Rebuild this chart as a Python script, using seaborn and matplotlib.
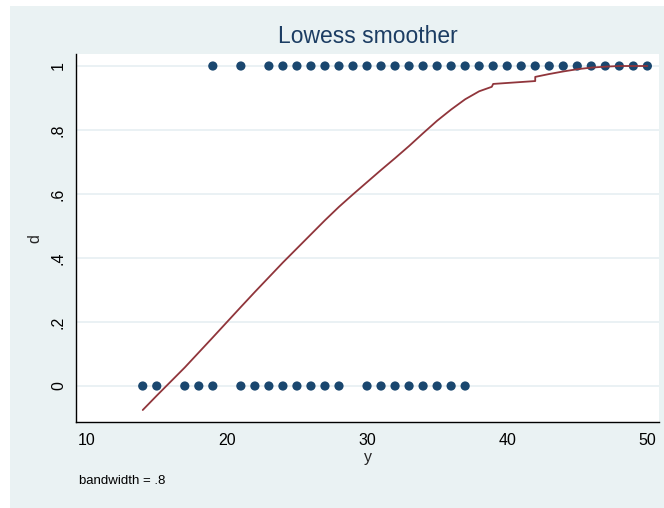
import matplotlib
matplotlib.use("Agg")
import matplotlib.pyplot as plt
from matplotlib.patches import Rectangle
import seaborn as sns
import pandas as pd

# observed outcomes: y values where d == 1 and where d == 0
y_d1 = [19, 21, 23, 24, 25, 26, 27, 28, 29, 30, 31, 32, 33, 34, 35, 36, 37,
        38, 39, 40, 41, 42, 43, 44, 45, 46, 47, 48, 49, 50]
y_d0 = [14, 15, 17, 18, 19, 21, 22, 23, 24, 25, 26, 27, 28, 30, 31, 32, 33,
        34, 35, 36, 37]

# lowess fit (bandwidth .8) evaluated at the observed y values
fit_y = [14, 15, 17, 18, 19, 21, 22, 23, 24, 25, 26, 27, 28, 29, 30, 31, 32,
         33, 34, 35, 36, 37, 38, 38.9, 39, 40, 41, 42, 42, 43, 44, 45, 46,
         47, 48, 49, 50]
fit_d = [-0.075, -0.030, 0.058, 0.105, 0.152, 0.247, 0.294, 0.340, 0.386,
         0.430, 0.474, 0.518, 0.560, 0.599, 0.637, 0.675, 0.712, 0.750,
         0.790, 0.829, 0.864, 0.896, 0.921, 0.935, 0.944, 0.947, 0.950,
         0.953, 0.966, 0.975, 0.983, 0.990, 0.995, 0.998, 1.000, 1.000, 1.000]

xticks = [10, 20, 30, 40, 50]
yticks = [0, 0.2, 0.4, 0.6, 0.8, 1.0]
ytick_labels = ["0", ".2", ".4", ".6", ".8", "1"]

BG = "#eaf2f3"
NAVY = "#1a476f"
MAROON = "#90353b"

sns.set_style("white")
plt.rcParams["font.family"] = ["Liberation Sans", "DejaVu Sans"]

W, H = 664, 508
fig = plt.figure(figsize=(W / 100, H / 100), dpi=100, facecolor="white")

# outer graph region
bg = fig.add_axes([0, 0, 1, 1], zorder=0)
bg.axis("off")
bg.add_patch(Rectangle((10 / W, 0), 1 - 10 / W, 1 - 6 / H,
                       transform=bg.transAxes, facecolor=BG, edgecolor="none"))

left, right, bottom, top = 76.3, 659, 422.3, 54.3
ax = fig.add_axes([left / W, 1 - bottom / H, (right - left) / W, (bottom - top) / H],
                  zorder=1)
ax.set_facecolor("white")

pts = pd.DataFrame({"y": y_d1 + y_d0, "d": [1] * len(y_d1) + [0] * len(y_d0)})
fit = pd.DataFrame({"y": fit_y, "d": fit_d})

sns.scatterplot(data=pts, x="y", y="d", ax=ax, color=NAVY, s=44,
                edgecolor="none", linewidth=0, zorder=3)
sns.lineplot(data=fit, x="y", y="d", ax=ax, color=MAROON, lw=1.3,
             sort=False, estimator=None, zorder=4)

ax.set_xlim(9.26, 50.83)
ax.set_ylim(-0.1134, 1.0366)
ax.set_xticks(xticks)
ax.set_xticklabels([str(t) for t in xticks])
ax.set_yticks(yticks)
ax.set_yticklabels(ytick_labels, rotation=90, va="center")

ax.grid(axis="y", color="#e4eef1", lw=1.1, zorder=0)
ax.grid(axis="x", visible=False)
ax.set_axisbelow(True)

for side in ("top", "right"):
    ax.spines[side].set_visible(False)
for side in ("left", "bottom"):
    ax.spines[side].set_color("black")
    ax.spines[side].set_linewidth(1.0)

ax.tick_params(axis="both", direction="out", length=4, width=1.0,
               color="black", labelsize=11.5, labelcolor="black", pad=3.5)

ax.set_xlabel("y", fontsize=11.5, labelpad=2)
ax.set_ylabel("d", fontsize=11.5, labelpad=6)
ax.set_title("Lowess smoother", fontsize=16.5, color="#1c3d63", pad=8)

fig.text(79 / W, 1 - 481 / H, "bandwidth = .8", fontsize=9.5, color="black",
         ha="left", va="center")

fig.savefig("out.png", dpi=100, facecolor=fig.get_facecolor())
